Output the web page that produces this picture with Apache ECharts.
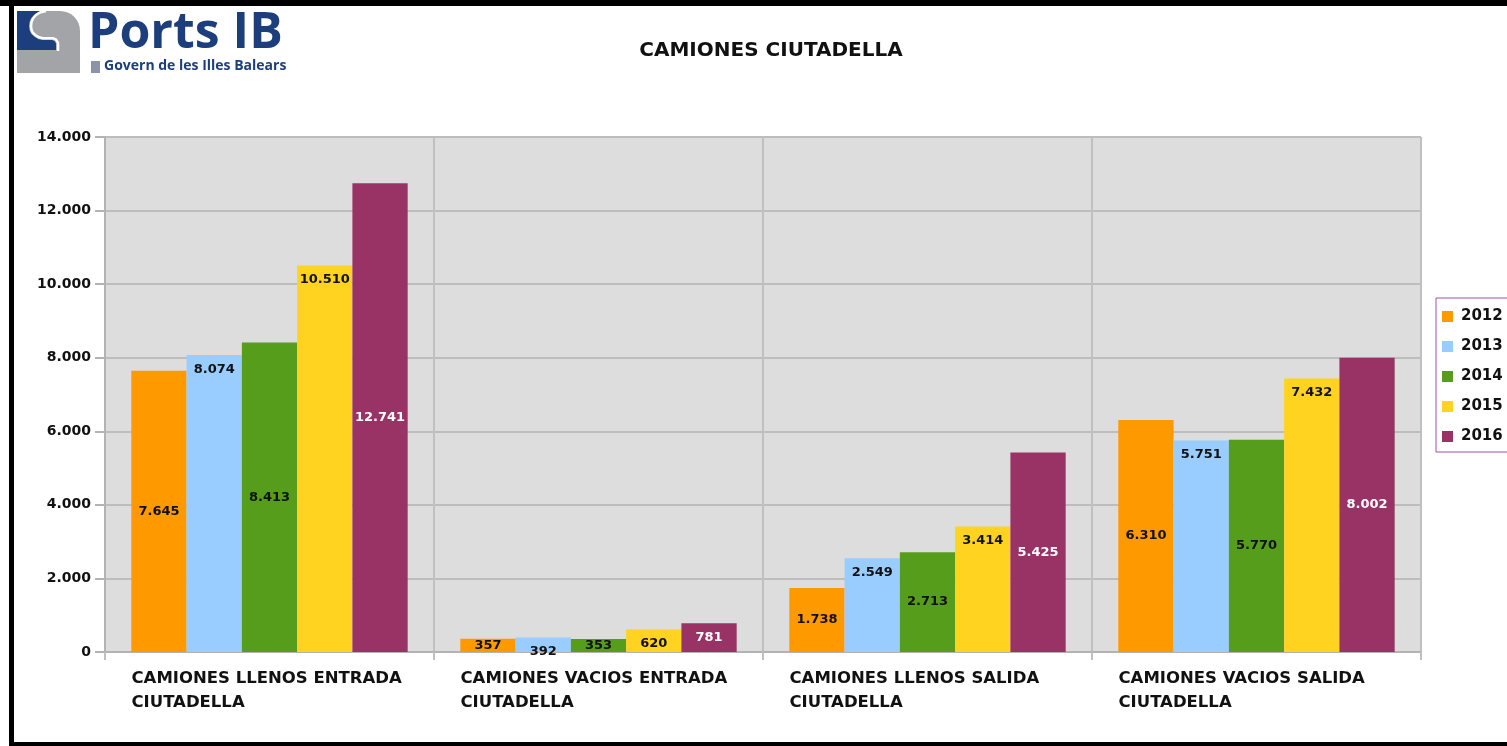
<!DOCTYPE html>
<html>
<head>
<meta charset="utf-8">
<script src="https://cdn.jsdelivr.net/npm/echarts@6/dist/echarts.min.js"></script>
<style>
  html, body { margin: 0; padding: 0; background: #fff; }
  #chart { width: 1507px; height: 746px; }
</style>
</head>
<body>
<div id="chart"></div>
<script>
// datos
var categorias = [
  'CAMIONES LLENOS ENTRADA\nCIUTADELLA',
  'CAMIONES VACIOS ENTRADA\nCIUTADELLA',
  'CAMIONES LLENOS SALIDA\nCIUTADELLA',
  'CAMIONES VACIOS SALIDA\nCIUTADELLA'
];
var anos = ['2012', '2013', '2014', '2015', '2016'];
var v2012 = [7645, 357, 1738, 6310];
var v2013 = [8074, 392, 2549, 5751];
var v2014 = [8413, 353, 2713, 5770];
var v2015 = [10510, 620, 3414, 7432];
var v2016 = [12741, 781, 5425, 8002];
var valores = [v2012, v2013, v2014, v2015, v2016];
var colores = ['#ff9900', '#99ccff', '#579d1c', '#ffd320', '#993366'];
// posición de la etiqueta de cada serie (como en el original)
var posEtiqueta = ['inside', 'insideTop', 'inside', 'insideTop', 'inside'];
var colorEtiqueta = ['#111', '#111', '#111', '#111', '#fff'];

var fuente = 'DejaVu Sans';

function puntos(n) {
  return String(n).replace(/\B(?=(\d{3})+(?!\d))/g, '.');
}

var myChart = echarts.init(document.getElementById('chart'));

var series = anos.map(function (a, i) {
  return {
    name: a,
    type: 'bar',
    data: valores[i],
    barGap: '0%',
    barCategoryGap: '16%',
    itemStyle: { color: colores[i] },
    label: {
      show: true,
      position: posEtiqueta[i],
      distance: 8,
      color: colorEtiqueta[i],
      fontFamily: fuente,
      fontWeight: 'bold',
      fontSize: 13,
      formatter: function (p) { return puntos(p.value); }
    }
  };
});

var option = {
  animation: false,
  backgroundColor: '#fff',
  title: {
    text: 'CAMIONES CIUTADELLA',
    left: 766,
    textAlign: 'center',
    top: 36,
    textStyle: { fontFamily: fuente, fontWeight: 'bold', fontSize: 20, color: '#111' }
  },
  legend: {
    orient: 'vertical',
    left: 1436,
    top: 298,
    padding: [11, 30, 8, 6],
    itemGap: 15,
    itemWidth: 11,
    itemHeight: 11,
    borderColor: '#a54ea5',
    borderWidth: 1,
    icon: 'rect',
    data: anos,
    textStyle: { fontFamily: fuente, fontWeight: 'bold', fontSize: 15, color: '#111', padding: [0, 0, 0, 3] }
  },
  grid: { left: 105, right: 86, top: 137, bottom: 94 },
  xAxis: {
    type: 'category',
    data: categorias,
    axisLine: { lineStyle: { color: '#b3b3b3', width: 2 } },
    axisTick: { show: true, length: 8, lineStyle: { color: '#c0c0c0', width: 2 } },
    splitLine: { show: true, lineStyle: { color: '#c0c0c0', width: 2 } },
    axisLabel: {
      margin: 15,
      formatter: function (v) {
        return v.split('\n').map(function (s) { return '{a|' + s + '}'; }).join('\n');
      },
      rich: {
        a: {
          width: 276, align: 'left', fontFamily: fuente, fontSize: 16.5,
          fontWeight: 'bold', color: '#111', lineHeight: 24
        }
      }
    }
  },
  yAxis: {
    type: 'value',
    min: 0,
    max: 14000,
    interval: 2000,
    axisLine: { show: true, lineStyle: { color: '#b3b3b3', width: 2 } },
    axisTick: { show: true, length: 10, lineStyle: { color: '#b3b3b3', width: 2 } },
    splitLine: { lineStyle: { color: '#bdbdbd', width: 2 } },
    axisLabel: {
      margin: 14,
      fontFamily: fuente,
      fontWeight: 'bold',
      fontSize: 14,
      color: '#111',
      formatter: function (v) { return puntos(v); }
    }
  },
  graphic: [
    // fondo gris del área del gráfico
    { type: 'rect', z: -1, shape: { x: 105, y: 137, width: 1316, height: 515 }, style: { fill: '#dddddd' } },
    // marco negro
    { type: 'rect', shape: { x: 0, y: 0, width: 1507, height: 6 }, style: { fill: '#000' } },
    { type: 'rect', shape: { x: 9, y: 0, width: 5, height: 746 }, style: { fill: '#000' } },
    { type: 'rect', shape: { x: 9, y: 742, width: 1498, height: 4 }, style: { fill: '#000' } },
    // logo Ports IB
    { type: 'rect', shape: { x: 17, y: 11, width: 63, height: 62, r: [0, 20, 0, 0] }, style: { fill: '#a2a4a7' } },
    { type: 'polygon', shape: { points: [[17, 11], [43, 11], [38, 12.5], [34, 15], [31, 18.5], [29.5, 22], [29, 26], [29.5, 30], [31, 33.5], [34, 36.5], [38, 39], [42, 40], [52, 40], [54.5, 41], [56, 43.5], [56, 50], [17, 50]] }, style: { fill: '#1d3e7d' } },
    { type: 'polyline', shape: { points: [[46, 11], [40, 12.5], [36, 15], [33, 18.5], [31.5, 22], [31, 26], [31.5, 30], [33, 33], [36, 35.5], [39, 37.3], [43, 38.2], [53, 38.2], [56, 39.5], [58, 43], [58, 51]] }, style: { fill: null, stroke: '#fff', lineWidth: 2.5 } },
    { type: 'text', left: 88, top: 9, style: { text: 'Ports IB', fontFamily: 'Open Sans', fontWeight: 'bold', fontSize: 50, fill: '#1d3e7d' } },
    { type: 'rect', shape: { x: 91, y: 61, width: 9, height: 12 }, style: { fill: '#8b93a8' } },
    { type: 'text', left: 104, top: 59, style: { text: 'Govern de les Illes Balears', fontFamily: 'Open Sans', fontWeight: 'bold', fontSize: 14, fill: '#1d3e7d' } }
  ],
  series: series
};

myChart.setOption(option);
</script>
</body>
</html>
